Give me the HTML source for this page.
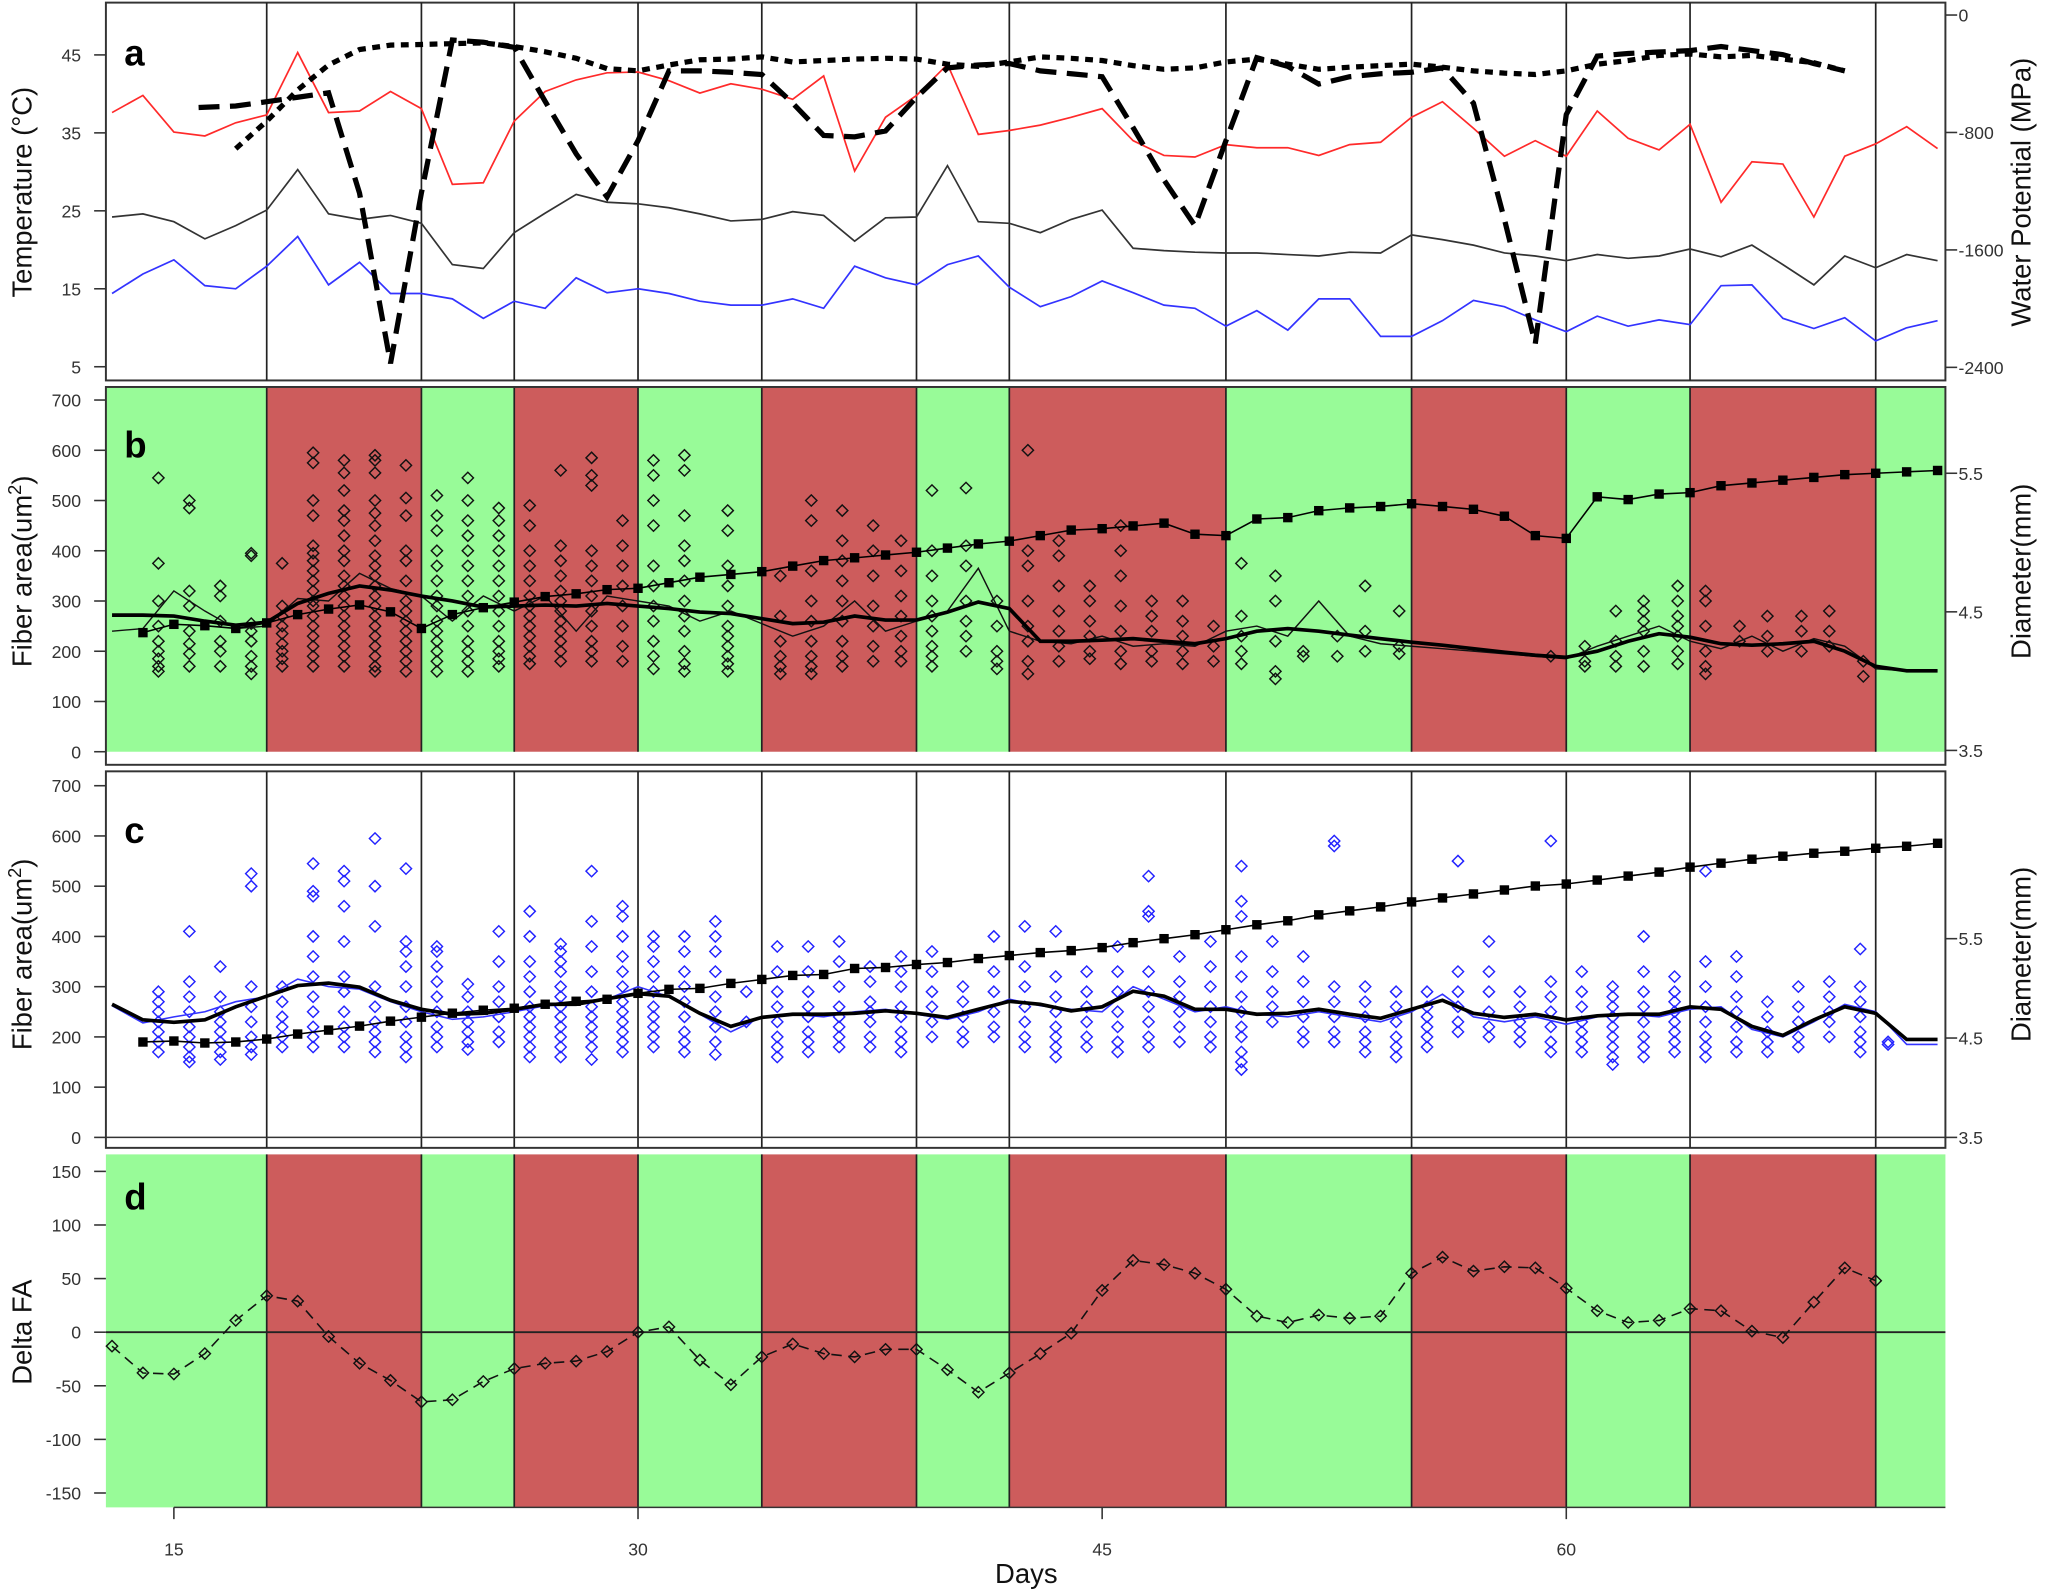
<!DOCTYPE html>
<html><head><meta charset="utf-8"><style>
html,body{margin:0;padding:0;background:#fff;}
svg{display:block;font-family:"Liberation Sans",Arial,sans-serif;}
</style></head><body>
<svg id="chart" width="2050" height="1590" viewBox="0 0 1568 1216.2" preserveAspectRatio="none" xmlns="http://www.w3.org/2000/svg"></svg>
<script>
// ---------- data ----------
const boundaries = [18,23,26,30,34,39,42,49,55,60,64,70];
const phaseColors = ['g','r','g','r','g','r','g','r','g','r','g','r','g'];
const tempDays = [13,14,15,16,17,18,19,20,21,22,23,24,25,26,27,28,29,30,31,32,33,34,35,36,37,38,39,40,41,42,43,44,45,46,47,48,49,50,51,52,53,54,55,56,57,58,59,60,61,62,63,64,65,66,67,68,69,70,71,72];
const tMax = [37.6,39.8,35.1,34.6,36.3,37.3,45.3,37.6,37.8,40.3,38.1,28.4,28.6,36.5,40.3,41.8,42.7,42.8,41.7,40.1,41.3,40.6,39.3,42.3,30.1,37,39.8,43.8,34.8,35.3,36,37,38.1,34,32.1,31.9,33.5,33.1,33.1,32.1,33.5,33.8,37,39,35.6,32,34,32,37.8,34.3,32.8,36.1,26.1,31.3,31,24.2,32,33.6,35.8,33];
const tMean = [24.2,24.6,23.6,21.4,23.1,25.1,30.3,24.6,23.9,24.4,23.4,18.1,17.6,22.2,24.7,27.1,26.1,25.9,25.4,24.6,23.7,23.9,24.9,24.4,21.1,24.1,24.2,30.8,23.6,23.4,22.2,23.9,25.1,20.2,19.9,19.7,19.6,19.6,19.4,19.2,19.7,19.6,21.9,21.3,20.6,19.6,19.2,18.6,19.4,18.9,19.2,20.1,19.1,20.6,18.1,15.5,19.2,17.7,19.4,18.6];
const tMin = [14.4,16.9,18.7,15.4,15,17.9,21.7,15.5,18.4,14.4,14.4,13.7,11.2,13.4,12.5,16.4,14.5,15,14.4,13.4,12.9,12.9,13.7,12.5,17.9,16.4,15.5,18.1,19.2,15.2,12.7,14,16,14.5,12.9,12.5,10.2,12.2,9.7,13.7,13.7,8.9,8.9,10.9,13.5,12.7,11,9.5,11.5,10.2,11,10.4,15.4,15.5,11.2,9.9,11.3,8.3,10,10.9];
const wpDashDays = [15.8,17,18,19,20,21,22,23,24,25,26,27,28,29,30,31,32,33,34,35,36,37,38,39,40,41,42,43,44,45,46,47,48,49,50,51,52,53,54,55,56,57,58,59,60,61,62,63,64,65,66,67,68,69];
const wpDash = [-630,-620,-590,-560,-530,-1213,-2373,-1213,-170,-185,-220,-589,-946,-1240,-856,-380,-380,-390,-405,-600,-820,-830,-790,-560,-360,-340,-330,-380,-400,-420,-767,-1124,-1436,-856,-290,-350,-470,-420,-400,-390,-360,-600,-1392,-2239,-678,-280,-262,-252,-242,-215,-242,-270,-330,-380];
const wpDotDays = [17,18,19,20,21,22,23,24,25,26,27,28,29,30,31,32,33,34,35,36,37,38,39,40,41,42,43,44,45,46,47,48,49,50,51,52,53,54,55,56,57,58,59,60,61,62,63,64,65,66,67,68,69];
const wpDot = [-910,-723,-510,-340,-235,-205,-200,-195,-190,-215,-250,-295,-365,-380,-340,-305,-300,-285,-320,-310,-300,-295,-300,-335,-350,-320,-285,-295,-310,-345,-370,-360,-320,-300,-335,-370,-355,-345,-335,-355,-380,-395,-405,-380,-335,-310,-275,-265,-285,-275,-300,-325,-380];

const diamDays = [14,15,16,17,18,19,20,21,22,23,24,25,26,27,28,29,30,31,32,33,34,35,36,37,38,39,40,41,42,43,44,45,46,47,48,49,50,51,52,53,54,55,56,57,58,59,60,61,62,63,64,65,66,67,68,69,70,71,72];
const diamB = [4.35,4.41,4.40,4.38,4.42,4.48,4.52,4.55,4.50,4.38,4.48,4.53,4.57,4.61,4.63,4.66,4.67,4.71,4.75,4.77,4.79,4.83,4.87,4.89,4.91,4.93,4.96,4.99,5.01,5.05,5.09,5.10,5.12,5.14,5.06,5.05,5.17,5.18,5.23,5.25,5.26,5.28,5.26,5.24,5.19,5.05,5.03,5.33,5.31,5.35,5.36,5.41,5.43,5.45,5.47,5.49,5.50,5.51,5.52];
const diamC = [4.46,4.47,4.45,4.46,4.49,4.54,4.58,4.62,4.67,4.71,4.75,4.78,4.80,4.84,4.87,4.89,4.95,4.99,5.00,5.05,5.09,5.13,5.14,5.20,5.21,5.24,5.26,5.30,5.33,5.36,5.38,5.41,5.46,5.50,5.54,5.59,5.64,5.68,5.74,5.78,5.82,5.87,5.91,5.95,5.99,6.03,6.05,6.09,6.13,6.17,6.22,6.26,6.30,6.33,6.36,6.38,6.41,6.43,6.46];

const meanDays = tempDays;
const fiberBSmooth = [272,272,270,260,252,258,295,315,330,322,310,300,288,290,292,290,295,290,285,278,275,265,255,258,270,262,262,278,298,285,220,220,222,225,220,215,225,240,245,240,232,225,218,212,205,198,192,188,200,220,235,228,215,212,215,220,200,170,161,161];
const fiberBRaw = [240,245,320,280,245,250,305,300,355,325,310,260,310,280,310,240,310,300,290,260,280,255,230,250,300,240,260,280,365,240,220,215,230,210,215,210,240,250,230,300,230,215,210,205,200,195,190,185,210,230,250,220,205,230,200,225,210,165,161,161];
const fiberCSmooth = [265,234,229,234,260,281,302,307,299,273,255,245,247,255,265,265,276,286,281,247,221,239,245,245,247,252,247,239,255,271,265,252,260,291,281,255,255,245,247,255,245,237,255,273,247,239,245,234,242,245,245,260,255,221,203,234,260,247,195,195];
const fiberCRaw = [262,228,240,250,270,280,315,300,295,270,250,235,240,250,262,265,275,300,280,245,210,240,245,240,250,255,245,235,250,275,262,255,250,300,275,250,260,245,240,250,240,230,250,285,240,230,240,225,240,245,240,255,260,215,200,230,265,250,185,185];

const scatterB = [
[14.5,[545,375,300,250,220,200,185,170,160]],
[15.5,[500,485,320,290,240,215,195,170]],
[16.5,[330,310,260,220,200,170]],
[17.5,[395,390,255,240,220,190,170,155]],
[18.5,[375,290,270,250,235,215,200,185,170]],
[19.5,[595,575,500,470,410,395,380,360,340,320,300,290,270,250,230,210,190,170]],
[20.5,[580,555,520,480,460,430,400,380,350,330,310,290,270,250,230,210,190,170]],
[21.5,[590,580,555,500,475,450,420,390,370,350,330,310,290,270,250,230,210,190,170,160]],
[22.5,[570,505,470,400,380,340,300,280,260,240,220,200,180,160]],
[23.5,[510,470,440,400,370,340,310,290,260,240,220,200,180,160]],
[24.5,[545,500,460,430,400,370,340,310,280,250,220,200,180,160]],
[25.5,[485,460,430,400,370,340,310,280,250,220,200,185,170]],
[26.5,[490,450,400,370,340,310,290,270,250,230,210,190,175]],
[27.5,[560,410,380,350,320,300,280,260,240,220,200,180]],
[28.5,[585,550,530,400,370,340,310,280,250,220,200,180]],
[29.5,[460,410,370,330,290,250,210,180]],
[30.5,[580,550,500,450,370,330,290,260,220,190,165]],
[31.5,[590,560,470,410,380,340,300,270,240,200,175,160]],
[32.9,[480,440,370,330,290,250,230,210,190,175,160]],
[34.6,[350,270,220,190,170,155]],
[35.6,[500,460,360,300,260,220,190,170,155]],
[36.6,[480,420,380,340,300,260,220,190,170]],
[37.6,[450,400,350,290,250,210,180]],
[38.5,[420,360,310,270,230,200,180]],
[39.5,[520,400,350,300,270,240,210,190,170]],
[40.6,[525,410,370,300,260,230,200]],
[41.6,[300,250,200,180,165]],
[42.6,[600,400,370,300,250,220,180,155]],
[43.6,[420,390,330,280,240,210,180]],
[44.6,[330,300,260,230,200,185]],
[45.6,[450,400,350,290,240,200,175]],
[46.6,[300,270,240,200,180]],
[47.6,[300,260,230,200,175]],
[48.6,[250,210,180]],
[49.5,[375,270,230,200,175]],
[50.6,[350,300,220,160,145]],
[51.5,[200,190]],
[52.6,[230,190]],
[53.5,[330,240,200]],
[54.6,[280,210,195]],
[59.5,[190]],
[60.6,[210,180,170]],
[61.6,[280,220,190,170]],
[62.5,[300,280,260,240,200,170]],
[63.6,[330,300,270,250,230,200,175]],
[64.5,[320,300,250,200,170,155]],
[65.6,[250,220]],
[66.5,[270,230,200]],
[67.6,[270,240,200]],
[68.5,[280,240,210]],
[69.6,[180,150]]
];
const scatterC = [
[14.5,[290,270,250,230,210,190,170]],
[15.5,[410,310,280,250,220,200,180,160,150]],
[16.5,[340,280,250,230,210,190,170,155]],
[17.5,[525,500,300,260,230,200,180,165]],
[18.5,[300,270,240,220,200,180]],
[19.5,[545,490,480,400,360,320,280,250,220,200,180]],
[20.5,[530,510,460,390,320,290,250,220,200,180]],
[21.5,[595,500,420,300,260,230,210,190,170]],
[22.5,[535,390,370,340,300,260,230,200,180,160]],
[23.5,[380,370,340,310,280,250,220,200,180]],
[24.5,[305,280,250,230,210,190,175]],
[25.5,[410,350,300,270,240,210,190]],
[26.5,[450,400,350,320,290,260,240,220,200,180,160]],
[27.5,[385,370,350,330,300,280,260,240,220,200,180,160]],
[28.5,[530,430,380,330,290,260,240,220,200,180,155]],
[29.5,[460,440,400,360,330,300,270,250,230,210,190,170]],
[30.5,[400,380,350,320,290,260,240,220,200,180]],
[31.5,[400,370,330,300,270,240,210,190,170]],
[32.5,[430,400,370,330,280,250,220,190,165]],
[33.5,[290,230]],
[34.5,[380,330,290,260,230,200,180,160]],
[35.5,[380,330,290,260,240,210,190,170]],
[36.5,[390,350,300,260,240,220,200,180]],
[37.5,[340,310,270,250,230,200,180]],
[38.5,[360,330,300,260,240,210,190,170]],
[39.5,[370,330,290,260,230,200]],
[40.5,[300,270,240,210,190]],
[41.5,[400,330,290,250,220,200]],
[42.5,[420,340,300,260,230,200,180]],
[43.5,[410,320,280,250,220,200,180,160]],
[44.5,[330,290,260,230,200,180]],
[45.5,[380,330,290,250,220,190,170]],
[46.5,[520,450,440,330,290,260,230,200,180]],
[47.5,[360,310,280,250,220,190]],
[48.5,[390,340,300,260,230,200,180]],
[49.5,[540,470,440,360,320,280,250,220,200,170,150,135]],
[50.5,[390,330,290,260,230]],
[51.5,[360,310,270,240,210,190]],
[52.5,[590,580,300,270,240,210,190]],
[53.5,[300,270,240,210,190,170]],
[54.5,[290,260,230,200,180,160]],
[55.5,[290,260,240,220,200,180]],
[56.5,[550,330,290,260,230,210]],
[57.5,[390,330,290,250,220,200]],
[58.5,[290,260,230,210,190]],
[59.5,[590,310,280,250,220,190,170]],
[60.5,[330,290,260,230,210,190,170]],
[61.5,[300,280,260,240,220,200,180,160,145]],
[62.5,[400,330,290,260,230,200,180,160]],
[63.5,[320,290,270,250,230,210,190,170]],
[64.5,[530,350,300,260,230,200,180,160]],
[65.5,[360,320,280,250,220,190,170]],
[66.5,[270,240,210,190,170]],
[67.5,[300,260,230,200,180]],
[68.5,[310,280,250,230,200]],
[69.5,[375,300,270,240,210,190,170]],
[70.4,[190,185]]
];
const deltaDays = [13,14,15,16,17,18,19,20,21,22,23,24,25,26,27,28,29,30,31,32,33,34,35,36,37,38,39,40,41,42,43,44,45,46,47,48,49,50,51,52,53,54,55,56,57,58,59,60,61,62,63,64,65,66,67,68,69,70];
const deltaFA = [-13,-38,-39,-20,11,34,29,-4,-29,-45,-65,-63,-46,-34,-29,-27,-18,0,5,-26,-49,-23,-11,-20,-23,-16,-16,-35,-56,-38,-20,-1,39,67,63,55,40,15,9,16,13,15,55,70,57,61,60,41,20,9,11,22,20,1,-5,28,60,48];

const tempTicks = [5,15,25,35,45];
const wpTicks = [0,-800,-1600,-2400];
const fiberTicks = [0,100,200,300,400,500,600,700];
const diamTicksB = [3.5,4.5,5.5];
const diamTicksC = [3.5,4.5,5.5];
const deltaTicks = [-150,-100,-50,0,50,100,150];
const dayTicks = [15,30,45,60];

// ---------- scales ----------
const L = 81, R = 1488;
const X = d => 133 + (d - 15) * 23.667;
const dayMin = (L - 133) / 23.667 + 15, dayMax = (R - 133) / 23.667 + 15;
const yT = t => 42 + (45 - t) * 5.963;
const yW = w => 11.5 + (-w) * 0.11229;
const yFB = f => 575 - f * 0.3843;
const yDB = d => 574 - (d - 3.5) * 106;
const yFC = f => 870 - f * 0.3843;
const yDC = d => 870 - (d - 3.5) * 76;
const yD = v => 1019 - v * 0.82;

const svg = document.getElementById('chart');
const NS = 'http://www.w3.org/2000/svg';
function el(tag, attrs, parent) {
  const e = document.createElementNS(NS, tag);
  for (const k in attrs) e.setAttribute(k, attrs[k]);
  (parent || svg).appendChild(e);
  return e;
}
function grp(name) {
  const g = el('g', {});
  
  
  return g;
}
function pts(xs, ys, fy) { return xs.map((d, i) => X(d).toFixed(1) + ',' + fy(ys[i]).toFixed(1)).join(' '); }
function txt(g, x, y, s, opts) {
  const t = el('text', Object.assign({x: x, y: y, 'font-size': 13.5, fill: '#333'}, opts || {}), g);
  t.textContent = s;
  return t;
}

function fills(name, top, bot) {
  const g = grp(name);
  const edges = [dayMin].concat(boundaries).concat([dayMax]);
  for (let i = 0; i < edges.length - 1; i++) {
    const x0 = Math.max(L, X(edges[i])), x1 = Math.min(R, X(edges[i + 1]));
    const r = el('rect', {x: x0, y: top, width: x1 - x0, height: bot - top, fill: phaseColors[i] === 'g' ? '#98FB98' : '#CD5C5C'}, g);
    
    
  }
}
function vlines(name, top, bot) {
  const g = grp(name);
  boundaries.forEach(b => {
    const l = el('line', {x1: X(b), x2: X(b), y1: top, y2: bot, stroke: '#222', 'stroke-width': 1.3}, g);
    
    
  });
}
function box(name, top, bot) {
  const r = el('rect', {x: L, y: top, width: R - L, height: bot - top, fill: 'none', stroke: '#333', 'stroke-width': 1.5});
  
  
}
function leftAxis(name, ticks, fy, fmt) {
  const g = grp(name);
  ticks.forEach(t => {
    el('line', {x1: 72, x2: L, y1: fy(t), y2: fy(t), stroke: '#333', 'stroke-width': 1.2}, g);
    txt(g, 62, fy(t) + 5, fmt ? fmt(t) : String(t), {'text-anchor': 'end'});
  });
}
function rightAxis(name, ticks, fy, fmt) {
  const g = grp(name);
  ticks.forEach(t => {
    el('line', {x1: R, x2: R + 9, y1: fy(t), y2: fy(t), stroke: '#333', 'stroke-width': 1.2}, g);
    txt(g, R + 10, fy(t) + 5, fmt ? fmt(t) : String(t), {'text-anchor': 'start'});
  });
}
function title(name, x, y, s, rot, sup) {
  const t = el('text', {x: 0, y: 0, 'font-size': 21, fill: '#111', 'text-anchor': 'middle', transform: `translate(${x},${y}) rotate(${rot})`});
  
  
  if (sup) {
    t.appendChild(document.createTextNode(s));
    const ts = el('tspan', {dy: -8, 'font-size': 14}, t); ts.textContent = '2';
    const t2 = el('tspan', {dy: 8}, t); t2.textContent = ')';
  } else t.textContent = s;
}
function letter(name, y, s) {
  const t = el('text', {x: 95, y: y, 'font-size': 28, 'font-weight': 'bold', fill: '#000'});
  t.textContent = s;
  
  
}
function line(name, xs, ys, fy, attrs) {
  const p = el('polyline', Object.assign({points: pts(xs, ys, fy), fill: 'none'}, attrs));
  
  
  return p;
}
function diamonds(name, sc, fy, color) {
  const g = grp(name);
  sc.forEach(([d, vals]) => vals.forEach(v => {
    const cx = X(d), cy = fy(v), s = 4.3;
    const p = el('polygon', {points: `${cx},${cy - s} ${cx + s},${cy} ${cx},${cy + s} ${cx - s},${cy}`, fill: 'none', stroke: color, 'stroke-width': 1.1}, g);
    
    
  }));
}
function squares(name, xs, ys, fy) {
  const g = grp(name);
  xs.forEach((d, i) => {
    const r = el('rect', {x: X(d) - 3.6, y: fy(ys[i]) - 3.6, width: 7.2, height: 7.2, fill: '#000'}, g);
    
    
  });
}

// ---------- panel a ----------
box('panel-a-frame', 2, 291);
vlines('panel-a-boundaries', 2, 291);
line('max-temperature-line', tempDays, tMax, yT, {stroke: '#FF2A2A', 'stroke-width': 1.3});
line('mean-temperature-line', tempDays, tMean, yT, {stroke: '#333', 'stroke-width': 1.3});
line('min-temperature-line', tempDays, tMin, yT, {stroke: '#3333FF', 'stroke-width': 1.3});
line('water-potential-dotted', wpDotDays, wpDot, yW, {stroke: '#000', 'stroke-width': 4, 'stroke-dasharray': '6 5'});
line('water-potential-dashed', wpDashDays, wpDash, yW, {stroke: '#000', 'stroke-width': 4, 'stroke-dasharray': '16 8'});
leftAxis('temperature-axis', tempTicks, yT);
rightAxis('water-potential-axis', wpTicks, yW);
title('temperature-axis-title', 24, 147, 'Temperature (°C)', -90);
title('water-potential-axis-title', 1553, 147, 'Water Potential (MPa)', -90);
letter('panel-a-label', 50, 'a');

// ---------- panel b ----------
fills('panel-b-phases', 296, 575);
vlines('panel-b-boundaries', 296, 575);
box('panel-b-frame', 296, 585);
diamonds('panel-b-samples', scatterB, yFB, '#111');
line('panel-b-mean-raw', meanDays, fiberBRaw, yFB, {stroke: '#111', 'stroke-width': 1.1});
line('panel-b-mean-smooth', meanDays, fiberBSmooth, yFB, {stroke: '#000', 'stroke-width': 2.8});
line('panel-b-diameter-line', diamDays, diamB, yDB, {stroke: '#000', 'stroke-width': 1.2});
squares('panel-b-diameter', diamDays, diamB, yDB);
leftAxis('panel-b-fiber-axis', fiberTicks, yFB);
rightAxis('panel-b-diameter-axis', diamTicksB, yDB, t => t.toFixed(1));
title('panel-b-fiber-title', 24, 437, 'Fiber area(um', -90, true);
title('panel-b-diameter-title', 1553, 437, 'Diameter(mm)', -90);
letter('panel-b-label', 350, 'b');

// ---------- panel c ----------
box('panel-c-frame', 590, 878);
vlines('panel-c-boundaries', 590, 878);
el('line', {x1: L, x2: R, y1: 870, y2: 870, stroke: '#333', 'stroke-width': 1.2});
diamonds('panel-c-samples', scatterC, yFC, '#2222FF');
line('panel-c-mean-raw', meanDays, fiberCRaw, yFC, {stroke: '#3333FF', 'stroke-width': 1.2});
line('panel-c-mean-smooth', meanDays, fiberCSmooth, yFC, {stroke: '#000', 'stroke-width': 2.8});
line('panel-c-diameter-line', diamDays, diamC, yDC, {stroke: '#000', 'stroke-width': 1.2});
squares('panel-c-diameter', diamDays, diamC, yDC);
leftAxis('panel-c-fiber-axis', fiberTicks, yFC);
rightAxis('panel-c-diameter-axis', diamTicksC, yDC, t => t.toFixed(1));
title('panel-c-fiber-title', 24, 730, 'Fiber area(um', -90, true);
title('panel-c-diameter-title', 1553, 730, 'Diameter(mm)', -90);
letter('panel-c-label', 645, 'c');

// ---------- panel d ----------
fills('panel-d-phases', 883, 1153);
vlines('panel-d-boundaries', 883, 1153);
el('line', {x1: L, x2: R, y1: yD(0), y2: yD(0), stroke: '#222', 'stroke-width': 1.4});
line('delta-fa-line', deltaDays, deltaFA, yD, {stroke: '#111', 'stroke-width': 1.2, 'stroke-dasharray': '8 5'});
diamonds('delta-fa-points', deltaDays.map((d, i) => [d, [deltaFA[i]]]), yD, '#111');
leftAxis('delta-fa-axis', deltaTicks, yD);
title('delta-fa-title', 24, 1019, 'Delta FA', -90);
letter('panel-d-label', 925, 'd');

// x axis
(function () {
  const g = grp('days-axis');
  el('line', {x1: X(dayTicks[0]), x2: R, y1: 1153, y2: 1153, stroke: '#333', 'stroke-width': 1.2}, g);
  dayTicks.forEach(d => {
    el('line', {x1: X(d), x2: X(d), y1: 1153, y2: 1162, stroke: '#333', 'stroke-width': 1.2}, g);
    txt(g, X(d), 1190, String(d), {'text-anchor': 'middle'});
  });
  title('days-axis-title', 785, 1211, 'Days', 0);
})();
</script>
</body></html>
